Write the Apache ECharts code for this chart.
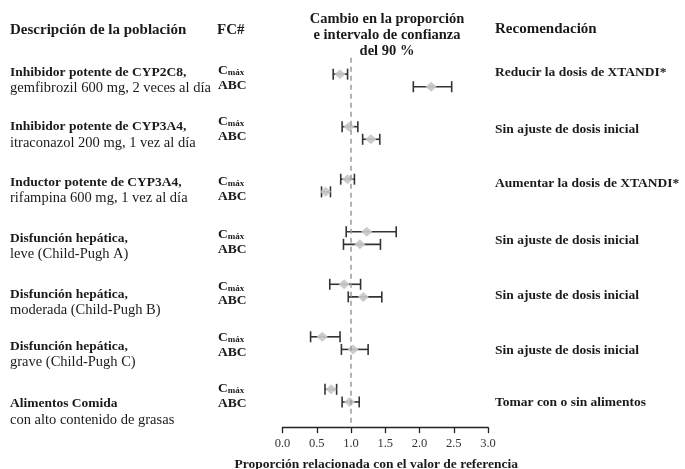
<!DOCTYPE html>
<html>
<head>
<meta charset="utf-8">
<script src="https://cdn.jsdelivr.net/npm/echarts@6/dist/echarts.min.js"></script>
<style>
html,body{margin:0;padding:0;background:#fff;}
#chart{width:685px;height:469px;}
</style>
</head>
<body>
<div id="chart"></div>
<script>
// ---- data ----
const groupTitles = [
  'Inhibidor potente de CYP2C8,',
  'Inhibidor potente de CYP3A4,',
  'Inductor potente de CYP3A4,',
  'Disfunción hepática,',
  'Disfunción hepática,',
  'Disfunción hepática,',
  'Alimentos Comida'
];
const groupSubtitles = [
  'gemfibrozil 600 mg, 2 veces al día',
  'itraconazol 200 mg, 1 vez al día',
  'rifampina 600 mg, 1 vez al día',
  'leve (Child-Pugh A)',
  'moderada (Child-Pugh B)',
  'grave (Child-Pugh C)',
  'con alto contenido de grasas'
];
const recommendations = [
  'Reducir la dosis de XTANDI*',
  'Sin ajuste de dosis inicial',
  'Aumentar la dosis de XTANDI*',
  'Sin ajuste de dosis inicial',
  'Sin ajuste de dosis inicial',
  'Sin ajuste de dosis inicial',
  'Tomar con o sin alimentos'
];
const cmaxPoint = [0.84, 0.97, 0.95, 1.23, 0.90, 0.58, 0.71];
const cmaxLow   = [0.74, 0.87, 0.85, 0.93, 0.69, 0.41, 0.62];
const cmaxHigh  = [0.95, 1.10, 1.05, 1.66, 1.14, 0.84, 0.79];
const abcPoint  = [2.17, 1.29, 0.63, 1.13, 1.18, 1.03, 0.98];
const abcLow    = [1.91, 1.17, 0.57, 0.89, 0.96, 0.86, 0.87];
const abcHigh   = [2.47, 1.42, 0.70, 1.43, 1.45, 1.25, 1.12];
const xTickLabels = ['0.0', '0.5', '1.0', '1.5', '2.0', '2.5', '3.0'];
const referenceValue = 1.0;

// ---- layout ----
const FONT = '"Liberation Serif", "DejaVu Serif", serif';
const TXT = '#1a1a1a';
const OFF = 6.3; // pixel offset of Cmax / ABC inside a row

// y positions (pixel) of the text lines
const yBold = [73, 127, 183, 239, 295, 347, 404];
const yNorm = [88, 143, 198, 254, 310, 362, 420];
const yCmax = [71, 122, 182, 235, 287, 338, 389];
const yAbc  = [86, 137, 197, 250, 301, 353, 404];
const yRec  = [73, 130, 184, 241, 296, 351, 403];

const chart = echarts.init(document.getElementById('chart'), null, {renderer: 'canvas'});

function whiskerSeries(low, high, dy) {
  return {
    type: 'custom',
    z: 3,
    data: low.map((l, i) => [i, l, high[i]]),
    encode: {x: [1, 2], y: 0},
    renderItem: function (params, api) {
      const row = api.value(0);
      const p1 = api.coord([api.value(1), row]);
      const p2 = api.coord([api.value(2), row]);
      const y = p1[1] + dy;
      const h = 5.5;
      const st = {stroke: '#333', lineWidth: 1.6};
      return {
        type: 'group',
        children: [
          {type: 'line', shape: {x1: p1[0], y1: y, x2: p2[0], y2: y}, style: st},
          {type: 'line', shape: {x1: p1[0], y1: y - h, x2: p1[0], y2: y + h}, style: st},
          {type: 'line', shape: {x1: p2[0], y1: y - h, x2: p2[0], y2: y + h}, style: st}
        ]
      };
    }
  };
}

function pointSeries(vals, dy) {
  return {
    type: 'scatter',
    z: 4,
    symbol: 'diamond',
    symbolSize: [11, 10],
    symbolOffset: [0, dy],
    itemStyle: {color: '#c8c8c8', opacity: 0.92},
    silent: true,
    data: vals.map((v, i) => [v, i])
  };
}

const graphics = [];
function t(x, y, text, font, align) {
  graphics.push({
    type: 'text', x: x, y: y, silent: true,
    style: {text: text, font: font, fill: TXT, verticalAlign: 'middle', align: align || 'left'}
  });
}

// headers
t(172, -3, 'max', '12px ' + FONT, 'left');
t(10, 30, 'Descripción de la población', 'bold 15px ' + FONT);
t(217, 30, 'FC#', 'bold 15px ' + FONT);
t(387, 19, 'Cambio en la proporción', 'bold 14.5px ' + FONT, 'center');
t(387, 35, 'e intervalo de confianza', 'bold 14.5px ' + FONT, 'center');
t(387, 51, 'del 90 %', 'bold 14.5px ' + FONT, 'center');
t(495, 29, 'Recomendación', 'bold 15px ' + FONT);

for (let i = 0; i < groupTitles.length; i++) {
  t(10, yBold[i], groupTitles[i], 'bold 13.5px ' + FONT);
  t(10, yNorm[i], groupSubtitles[i], '14.5px ' + FONT);
  graphics.push({
    type: 'text', x: 218, y: yCmax[i], silent: true,
    style: {
      text: '{c|C}{m|máx}', verticalAlign: 'middle', align: 'left',
      rich: {
        c: {font: 'bold 13.5px ' + FONT, fill: TXT, verticalAlign: 'bottom'},
        m: {font: 'bold 9px ' + FONT, fill: TXT, verticalAlign: 'bottom', padding: [0, 0, 1, 0]}
      }
    }
  });
  t(218, yAbc[i], 'ABC', 'bold 13.5px ' + FONT);
  t(495, yRec[i], recommendations[i], 'bold 13.5px ' + FONT);
}

const option = {
  backgroundColor: '#fff',
  animation: false,
  grid: {left: 282.5, width: 205.5, top: 57.86, height: 369.3, containLabel: false, outerBoundsMode: 'none'},
  xAxis: {
    type: 'value', min: 0, max: 3, interval: 0.5,
    axisLine: {show: true, onZero: false, lineStyle: {color: '#222', width: 1.3}},
    axisTick: {show: true, length: 6, lineStyle: {color: '#222', width: 1.3}},
    splitLine: {show: false},
    axisLabel: {
      margin: 10, color: '#333', fontFamily: FONT, fontSize: 12.5,
      formatter: function (v) { return xTickLabels[Math.round(v / 0.5)]; }
    },
    name: 'Proporción relacionada con el valor de referencia',
    nameLocation: 'middle', nameGap: 30,
    nameTextStyle: {fontFamily: FONT, fontWeight: 'bold', fontSize: 13.5, color: TXT, padding: [0, 18, 0, 0]}
  },
  yAxis: {
    type: 'value', inverse: true, min: -0.43, max: 6.6, show: false
  },
  series: [
    {
      type: 'line', data: [], z: 1,
      markLine: {
        silent: true, symbol: 'none', label: {show: false},
        lineStyle: {color: '#9a9a9a', type: [5, 4], width: 1.5},
        data: [{xAxis: referenceValue}]
      }
    },
    whiskerSeries(cmaxLow, cmaxHigh, -OFF),
    whiskerSeries(abcLow, abcHigh, OFF),
    pointSeries(cmaxPoint, -OFF),
    pointSeries(abcPoint, OFF)
  ],
  graphic: graphics
};
chart.setOption(option);
</script>
</body>
</html>
